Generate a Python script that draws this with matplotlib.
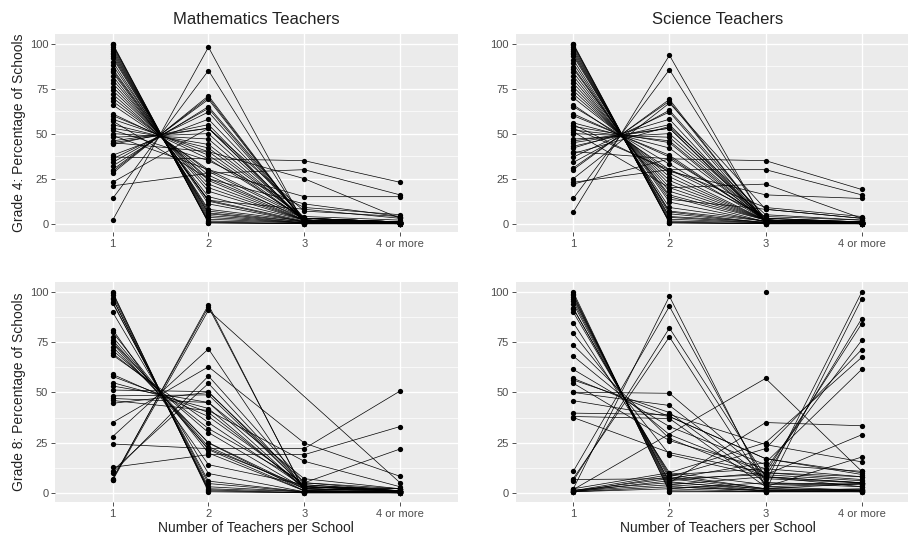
import numpy as np
import matplotlib
matplotlib.use('Agg')
import matplotlib.pyplot as plt

plt.rcParams['font.family'] = ['Liberation Sans', 'DejaVu Sans']

nan = np.nan
categories = ['1', '2', '3', '4 or more']

# one row per country: % of schools with 1, 2, 3, 4+ teachers
g4_math = [
    [100, 0.5, 0, 0], [99.5, 0.5, 0, 0], [99, 1, 0, 0], [98, 1.5, 0.5, 0],
    [97, 2.5, 0.5, 0], [96, 3.5, 0.5, 0], [95, 4.5, 0.5, 0], [94, 5.5, 0.5, 0],
    [93, 6, 1, 0], [92, 7, 1, 0.5], [90, 8, 1.5, 0.5], [88, 11, 1, 0.5],
    [86, 12.5, 1, 0.5], [85, 13, 1.5, 0.5], [84, 13, 8, 3], [82, 15, 2, 1],
    [80, 18, 2, 0.5], [78, 20, 2, 1], [76, 22, 2, 0.5], [74, 24, 2, 0.5],
    [72, 25, 3, 1], [70, 27, 2, 1], [68, 29, 3, 1], [66, 30, 4, 2],
    [61, 36, 3, 1], [60, 38, 2, 0.5], [58, 40, 2, 1], [57, 25, 11, 4],
    [55, 42, 3, 1], [53, 44, 3, 1], [52, 35, 9, 5], [50, 47, 2, 1],
    [49, 30, 15, 15], [48, 50, 2, 0.5], [46, 53, 1, 0.5], [45, 53, 2, 1],
    [45, 40, 25, 3], [44, 55, 1, 0.5], [38, 58, 3, 1], [37, 36, 35, 23],
    [36, 62, 2, 0.5], [34, 64, 2, 0.5], [32, 65, 3, 1], [30, 69, 1, 0.5],
    [29, 70, 1, 0.5], [28, 71, 1, 0.5], [23, 53, 7, 4], [21, 28, 30, 16],
    [14, 85, 1, 0], [2, 98, 0, 0],
]

g4_sci = [
    [100, 0.5, 0, 0], [99.5, 0.5, 0, 0], [99, 1, 0, 0], [98, 1.5, 0.5, 0],
    [97, 2.5, 0.5, 0], [96, 3.5, 0.5, 0], [95, 4, 1, 0], [94, 5.5, 0.5, 0],
    [93, 6.5, 0.5, 0], [91, 7, 1.5, 0.5], [89, 9, 1.5, 0.5], [87, 12, 1, 0.5],
    [86, 13.5, 8, 3], [84, 15, 1, 0.5], [82, 16, 2, 0.5], [80, 18, 2, 0.5],
    [78, 20, 2, 1], [76, 22, 2, 0.5], [74, 24, 2, 0.5], [72, 26, 2, 0.5],
    [70, 28, 2, 1], [66, 30, 4, 2], [65, 33, 2, 1], [61, 37, 2, 0.5],
    [60, 38, 2, 1], [56, 42, 2, 1], [55, 29, 16, 14], [54, 45, 1, 0.5],
    [53, 30, 9, 4], [52, 46, 2, 1], [51, 20, 22, 3], [50, 48, 2, 1],
    [47, 50, 3, 1], [46, 53, 1, 0.5], [45, 53, 2, 1], [43, 55, 2, 0.5],
    [42, 58, 1, 0.5], [40, 36, 35, 19], [39, 54, 5, 2], [37, 62, 1, 0.5],
    [34, 63, 3, 1], [31, 68, 1, 0.5], [30, 69, 1, 0.5], [25, 67, 8, 3],
    [23, 30, 30, 16], [22, 36, 3, 1], [14, 85.5, 1, 0], [6.5, 93.5, 0, 0],
]

g8_math = [
    [100, 0.5, 0, 0], [99.5, 1, 0, 0], [98.4, 1.5, 0, 0], [97, 2, 0.5, 0.5],
    [96.7, 3, 0.5, 0], [95, 4.6, 0.5, 0], [94.5, 5.8, 0.5, 0.5], [90, 9.6, 0.5, 0],
    [81.3, 14, 4, 1], [80, 19.8, 1, 0.5], [77.7, 21.5, 1, 0.5], [76, 23, 2, 1],
    [75, 24.8, 1, 0.5], [74.4, 22, 3, 1], [72.7, 25, 2, 0.5], [71, 30, 2, 1],
    [69.5, 32, 5, 2], [68.6, 35, 3, 2], [59, 38, 4, 1], [58, 40, 3, 1],
    [54.9, 42, 2, 1], [53.2, 45, 7, 2], [51.2, 50.4, 3, 2], [48.3, 48.8, 3, 1],
    [47, 45, 2, 1], [46, 41, 15.7, 3], [44.6, 50, 5, 1], [35, 62.8, 24.8, 8.2],
    [28, 71.7, 1, 0.5], [24.3, 22, 22, 50.7], [12.7, 19, 19, 33], [11, 54.5, 3, 1],
    [9.9, 58.2, 5, 21.8], [7, 92.6, 1, 0.5], [6.6, 93.7, 0.5, 0.5], [6.2, 91, nan, 5],
]

g8_sci = [
    [100, 0.5, 0.5, 0.5], [99, 1, 0.5, 0.5], [98.4, 2, 0.5, 1], [97.5, 3, 1, 1.3],
    [96.7, 4, 1, 0.5], [95.5, 5, 2, 1], [94.2, 5.5, 1, 2], [92, 7, 1.5, 1],
    [91.8, 8, 2, 4.6], [90, 9, 2, 1.5], [84.8, 10, 4, 5], [79.4, 19, 8, 3],
    [73.6, 27, 8, 5], [68.1, 29, 10, 6.6], [61.5, 33, 14, 10.7], [57, 38, 17, 9.1],
    [56.2, 40, 5, 4], [54.6, 26, 12, 8], [50.1, 49.6, 9, 6], [50, 43.5, 7, 5],
    [45.9, 38, 17, 10], [39.7, 39, 24, 15.4], [38, 37, 3, 17.8], [37.5, 20, 10, 8],
    [10.7, 92.9, 5, 3], [7.1, 77.7, 3, 4.6], [6, 82.1, 8, 5], [2, 97.9, 3, 1.3],
    [1.6, nan, 57, 10.7], [1.3, 5, 35, 33.4], [0.5, 3, 1, 96.7], [0.8, 4, 8, 86.8],
    [0.5, 6, 10, 84.3], [1, 9, 12, 76], [0.5, 8, 22, 71.4], [2, 10, 25, 67.5],
    [6.6, 7, 15, 61.5], [0.5, 2, 5, 100], [nan, nan, 100, nan], [1, 7, 9, 28.9],
]

W, H = 908, 540
fig = plt.figure(figsize=(W / 100, H / 100), dpi=100)
fig.patch.set_facecolor('white')


def panel(left, top, right, bottom, rows):
    ax = fig.add_axes([left / W, 1 - bottom / H, (right - left) / W, (bottom - top) / H])
    ax.set_facecolor('#EBEBEB')
    for s in ax.spines.values():
        s.set_visible(False)
    ax.set_xlim(0.4, 4.6)
    ax.set_ylim(-4.6, 105.3)
    ax.set_xticks([1, 2, 3, 4])
    ax.set_xticklabels(categories)
    ax.set_yticks([0, 25, 50, 75, 100])
    ax.set_yticks([12.5, 37.5, 62.5, 87.5], minor=True)
    ax.grid(True, which='major', color='white', lw=1.0)
    ax.grid(True, which='minor', axis='y', color='white', lw=0.5)
    ax.set_axisbelow(True)
    ax.tick_params(which='major', length=3, width=0.6, color='#333333',
                   labelsize=8, labelcolor='#4D4D4D', pad=2)
    ax.tick_params(which='minor', length=0)
    x = np.arange(1, 5)
    for r in rows:
        y = np.array(r, dtype=float)
        m = ~np.isnan(y)
        ax.plot(x[m], y[m], color='black', lw=0.5, marker='o', ms=3.8,
                markeredgewidth=0, clip_on=False)
    return ax


panel(55.2, 34, 457.5, 232, g4_math)
panel(515.6, 34, 919.4, 232, g4_sci)
panel(55.2, 281.5, 457.5, 502, g8_math)
panel(515.6, 281.5, 919.4, 502, g8_sci)

fig.text(256.4 / W, 1 - 20 / H, 'Mathematics Teachers', ha='center', va='center', fontsize=12, color='#222222')
fig.text(717.5 / W, 1 - 20 / H, 'Science Teachers', ha='center', va='center', fontsize=12, color='#222222')
fig.text(19 / W, 1 - 133 / H, 'Grade 4: Percentage of Schools', rotation=90, ha='center', va='center', fontsize=10, color='#222222')
fig.text(19 / W, 1 - 392 / H, 'Grade 8: Percentage of Schools', rotation=90, ha='center', va='center', fontsize=10, color='#222222')
fig.text(256.4 / W, 1 - 528 / H, 'Number of Teachers per School', ha='center', va='center', fontsize=10, color='#222222')
fig.text(717.5 / W, 1 - 528 / H, 'Number of Teachers per School', ha='center', va='center', fontsize=10, color='#222222')

fig.savefig('out.png', dpi=100)
